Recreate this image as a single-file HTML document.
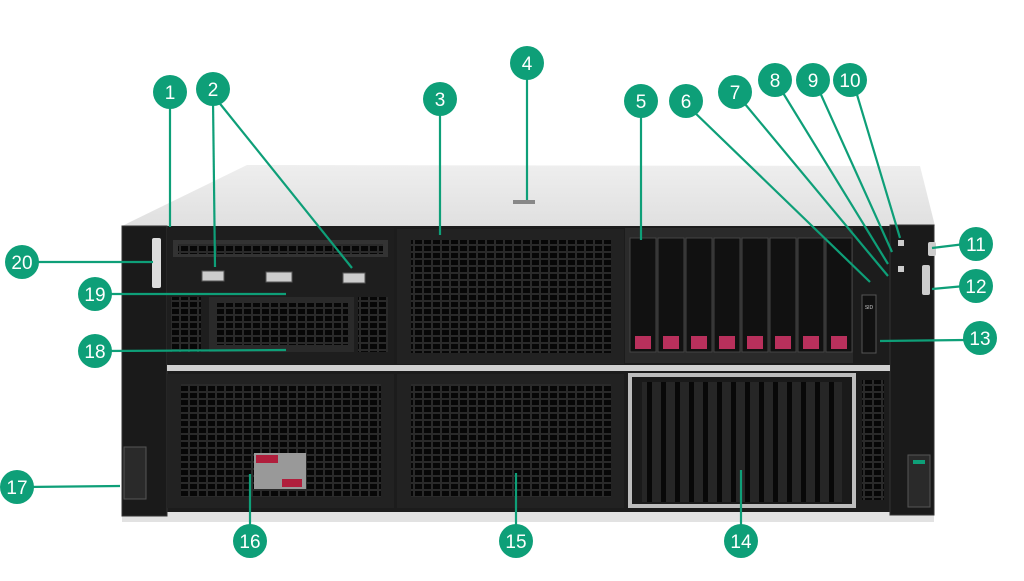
<!DOCTYPE html>
<html><head><meta charset="utf-8"><style>html,body{margin:0;padding:0;background:#fff;}svg{display:block}</style></head>
<body>
<svg width="1024" height="581" viewBox="0 0 1024 581" xmlns="http://www.w3.org/2000/svg" font-family="Liberation Sans, sans-serif">
<defs>
<pattern id="grill" width="9" height="7" patternUnits="userSpaceOnUse"><rect width="9" height="7" fill="#2a2a2a"/><rect x="1" y="1" width="7" height="5" fill="#070707"/></pattern>
<pattern id="vslot" width="14" height="100" patternUnits="userSpaceOnUse"><rect width="14" height="100" fill="#262626"/><rect x="3" y="0" width="5" height="100" fill="#080808"/></pattern>
<linearGradient id="lid" x1="0" y1="0" x2="0" y2="1"><stop offset="0" stop-color="#eeeeee"/><stop offset="1" stop-color="#e0e0e0"/></linearGradient>
</defs>
<polygon points="247,165 920,166 935,226 122,226" fill="url(#lid)"/>
<rect x="513" y="200" width="22" height="4" fill="#888"/>
<rect x="122" y="508" width="812" height="14" fill="#e2e2e2"/>
<rect x="122" y="226" width="812" height="286" fill="#1c1c1c"/>
<rect x="122" y="226" width="45" height="290" fill="#1a1a1a" stroke="#333"/>
<rect x="890" y="225" width="44" height="290" fill="#1a1a1a" stroke="#333"/>
<rect x="167" y="228" width="227" height="136" fill="#1e1e1e"/>
<rect x="173" y="240" width="215" height="17" fill="#333"/>
<rect x="178" y="244" width="205" height="10" fill="url(#grill)"/>
<rect x="202" y="271" width="22" height="10" fill="#ccc" stroke="#555"/>
<rect x="266" y="272" width="26" height="10" fill="#ccc" stroke="#555"/>
<rect x="343" y="273" width="22" height="10" fill="#ccc" stroke="#555"/>
<rect x="171" y="297" width="30" height="55" fill="url(#grill)"/>
<rect x="209" y="297" width="145" height="55" fill="#2a2a2a"/>
<rect x="215" y="303" width="133" height="42" fill="url(#grill)"/>
<rect x="358" y="297" width="30" height="55" fill="url(#grill)"/>
<rect x="167" y="365" width="723" height="6" fill="#d0d0d0"/>
<rect x="397" y="229" width="227" height="135" fill="#222"/>
<rect x="411" y="240" width="200" height="113" fill="url(#grill)"/>
<rect x="397" y="374" width="227" height="134" fill="#222"/>
<rect x="411" y="384" width="200" height="113" fill="url(#grill)"/>
<rect x="167" y="374" width="227" height="134" fill="#222"/>
<rect x="181" y="384" width="200" height="113" fill="url(#grill)"/>
<rect x="254" y="453" width="52" height="36" fill="#999"/>
<rect x="256" y="455" width="22" height="8" fill="#b01e3c"/>
<rect x="282" y="479" width="20" height="8" fill="#b01e3c"/>
<rect x="625" y="228" width="228" height="135" fill="#2a2a2a"/>
<g fill="#111" stroke="#444">
<rect x="630" y="238" width="26" height="114"/><rect x="658" y="238" width="26" height="114"/><rect x="686" y="238" width="26" height="114"/><rect x="714" y="238" width="26" height="114"/><rect x="742" y="238" width="26" height="114"/><rect x="770" y="238" width="26" height="114"/><rect x="798" y="238" width="26" height="114"/><rect x="826" y="238" width="26" height="114"/>
</g>
<g fill="#b8305c">
<rect x="635" y="336" width="16" height="13"/><rect x="663" y="336" width="16" height="13"/><rect x="691" y="336" width="16" height="13"/><rect x="719" y="336" width="16" height="13"/><rect x="747" y="336" width="16" height="13"/><rect x="775" y="336" width="16" height="13"/><rect x="803" y="336" width="16" height="13"/><rect x="831" y="336" width="16" height="13"/>
</g>
<rect x="862" y="295" width="14" height="58" fill="#111" stroke="#555"/>
<text x="869" y="309" font-size="5" fill="#ccc" text-anchor="middle">SID</text>
<rect x="928" y="242" width="8" height="14" fill="#ccc" rx="2"/>
<rect x="922" y="265" width="8" height="30" fill="#ccc" rx="2"/>
<rect x="898" y="240" width="6" height="6" fill="#ccc"/><rect x="898" y="266" width="6" height="6" fill="#ccc"/>
<rect x="628" y="373" width="228" height="135" fill="#bdbdbd"/>
<rect x="632" y="377" width="220" height="127" fill="#1a1a1a"/>
<rect x="642" y="382" width="200" height="120" fill="url(#vslot)"/>
<rect x="862" y="380" width="22" height="120" fill="url(#grill)"/>
<rect x="152" y="238" width="9" height="50" fill="#ddd" rx="2"/>
<rect x="124" y="447" width="22" height="52" fill="#2a2a2a" stroke="#555"/>
<rect x="908" y="455" width="22" height="52" fill="#2a2a2a" stroke="#555"/>
<rect x="913" y="460" width="12" height="4" fill="#0e9f78"/>
<g stroke="#0e9f78" stroke-width="2.2" fill="none">
<line x1="170" y1="100" x2="170" y2="227"/>
<line x1="213" y1="100" x2="215" y2="267"/>
<line x1="217" y1="100" x2="352" y2="268"/>
<line x1="440" y1="105" x2="440" y2="235"/>
<line x1="527" y1="70" x2="527" y2="200"/>
<line x1="641" y1="110" x2="641" y2="240"/>
<line x1="690" y1="108" x2="870" y2="282"/>
<line x1="740" y1="98" x2="888" y2="276"/>
<line x1="780" y1="88" x2="888" y2="264"/>
<line x1="818" y1="88" x2="892" y2="252"/>
<line x1="855" y1="88" x2="900" y2="238"/>
<line x1="965" y1="244" x2="932" y2="248"/>
<line x1="965" y1="286" x2="932" y2="289"/>
<line x1="965" y1="340" x2="880" y2="341"/>
<line x1="741" y1="530" x2="741" y2="470"/>
<line x1="516" y1="530" x2="516" y2="473"/>
<line x1="250" y1="530" x2="250" y2="474"/>
<line x1="25" y1="487" x2="120" y2="486"/>
<line x1="100" y1="351" x2="286" y2="350"/>
<line x1="100" y1="294" x2="286" y2="294"/>
<line x1="30" y1="262" x2="153" y2="262"/>
</g>
<g fill="#0e9f78">
<circle cx="170" cy="92" r="17"/><circle cx="213" cy="89" r="17"/><circle cx="440" cy="99" r="17"/><circle cx="527" cy="63" r="17"/><circle cx="641" cy="101" r="17"/><circle cx="686" cy="101" r="17"/><circle cx="735" cy="92" r="17"/><circle cx="775" cy="80" r="17"/><circle cx="813" cy="80" r="17"/><circle cx="850" cy="80" r="17"/><circle cx="976" cy="244" r="17"/><circle cx="976" cy="286" r="17"/><circle cx="980" cy="338" r="17"/><circle cx="741" cy="541" r="17"/><circle cx="516" cy="541" r="17"/><circle cx="250" cy="541" r="17"/><circle cx="17" cy="487" r="17"/><circle cx="95" cy="351" r="17"/><circle cx="95" cy="294" r="17"/><circle cx="22" cy="262" r="17"/>
</g>
<g fill="#fff" font-size="19" text-anchor="middle">
<text x="170" y="99">1</text><text x="213" y="96">2</text><text x="440" y="106">3</text><text x="527" y="70">4</text><text x="641" y="108">5</text><text x="686" y="108">6</text><text x="735" y="99">7</text><text x="775" y="87">8</text><text x="813" y="87">9</text><text x="850" y="87">10</text><text x="976" y="251">11</text><text x="976" y="293">12</text><text x="980" y="345">13</text><text x="741" y="548">14</text><text x="516" y="548">15</text><text x="250" y="548">16</text><text x="17" y="494">17</text><text x="95" y="358">18</text><text x="95" y="301">19</text><text x="22" y="269">20</text>
</g>
</svg>
</body></html>
